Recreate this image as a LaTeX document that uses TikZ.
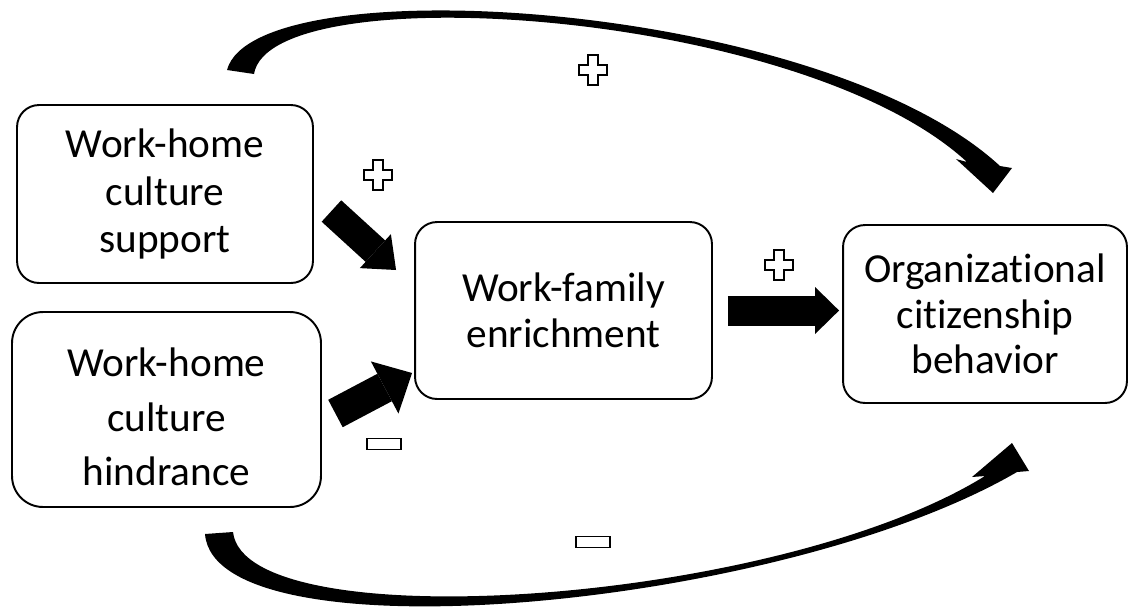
\documentclass[tikz,border=0pt]{standalone}
\usepackage{fontspec}
\setmainfont{Carlito}[Ligatures=NoCommon]
\usetikzlibrary{
  arrows.meta,
  calc
}

\begin{document}
\begin{tikzpicture}[x=0.02cm, y=-0.02cm,
    box/.style={draw, line width=1.1pt, rounded corners=0.44cm, align=center,
        inner sep=0pt, font=\fontsize{23.5}{26}\selectfont},
    blockarrow/.style={line width=0.6cm,
        -{Triangle[width=0.94cm, length=0.48cm, line width=0pt]}},
    sign/.style={draw, fill=white, line width=1.1pt},
    plussign/.pic={
        \draw[sign] (-5,-15) -- (5,-15) -- (5,-5) -- (14,-5) -- (14,5) -- (5,5)
          -- (5,15) -- (-5,15) -- (-5,5) -- (-14,5) -- (-14,-5) -- (-5,-5) -- cycle;
      },
    minussign/.pic={
        \draw[sign] (-17,-5.5) rectangle (17,5.5);
      }]
  \useasboundingbox (0,0) rectangle (1129,606);

  \node[box, minimum width=5.92cm, minimum height=3.56cm,
    font=\fontsize{23.5}{27}\selectfont] (sup) at (165,194)
    {Work-home\\culture\\support};
  \node[box, minimum width=6.18cm, minimum height=3.9cm, rounded corners=0.62cm,
    font=\fontsize{23.5}{31}\selectfont] (hin) at (166.5,409.5)
    {\rule{0pt}{25pt}Work-home\\culture\\hindrance};
  \node[box, minimum width=5.94cm, minimum height=3.54cm] (enr) at (563.5,310.5)
    {Work-family\\enrichment};
  \node[box, minimum width=5.68cm, minimum height=3.56cm] (ocb) at (985,314)
    {Organizational\\citizenship\\behavior};

  \draw[blockarrow, line width=0.58cm,
    -{Triangle[width=0.92cm, length=0.56cm, line width=0pt]}]
    ($(sup.east)+(17.5,17)$) -- ($(enr.west)+(-18,-40.5)$);
  \draw[blockarrow, line width=0.62cm,
    -{Triangle[width=1.18cm, length=0.62cm, line width=0pt]}]
    ($(hin.east)+(13.5,4)$) -- ($(enr.west)+(-2,62.5)$);
  \draw[blockarrow] ($(enr.east)+(15,0)$) -- ($(ocb.west|-enr.east)+(-3,0)$);

  % long tapered arrows round the boxes
  \fill (227,70) .. controls (255,-35) and (820,0) .. (1000,166)
    -- (1012,168) -- (993,193) -- (956,159) -- (967,162)
    .. controls (800,8) and (270,-25) .. (254,74) -- cycle;
  \fill (205,534) .. controls (215,660) and (780,610) .. (1017,472)
    -- (1029,471) -- (1012,443) -- (972,477) -- (985,476)
    .. controls (775,606) and (245,640) .. (233,532) -- cycle;

  \pic at (593,70) {plussign};
  \pic at (378,175) {plussign};
  \pic at (779,265) {plussign};
  \pic at (384,444) {minussign};
  \pic at (593,542) {minussign};
\end{tikzpicture}
\end{document}
